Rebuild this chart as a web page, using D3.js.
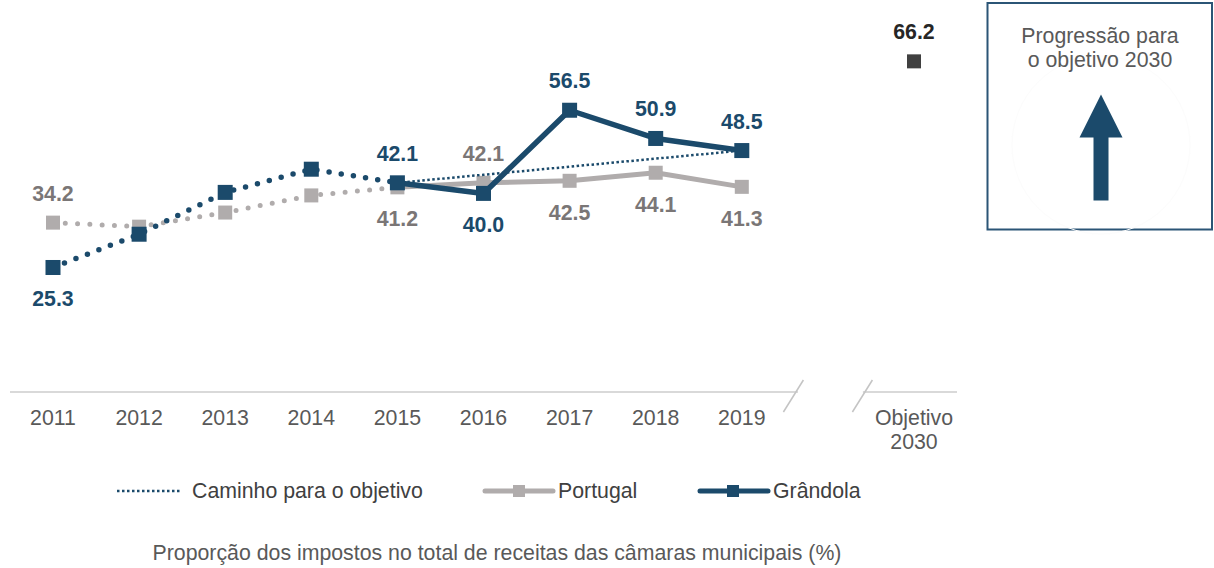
<!DOCTYPE html>
<html lang="pt">
<head>
<meta charset="utf-8">
<script src="https://cdn.jsdelivr.net/npm/d3@7"></script>
<style>
  html, body { margin: 0; padding: 0; background: #fff; }
  svg { display: block; font-family: "Liberation Sans", Arial, sans-serif; }
</style>
</head>
<body>
<svg id="chart" width="1214" height="568"></svg>
<script>
// Categories on the horizontal axis (blank slot marks the axis break)
const years = ["2011", "2012", "2013", "2014", "2015", "2016", "2017", "2018", "2019"];
const slots = [...years, "gap", "Objetivo 2030"];

// Share of taxes in total municipal revenue (%)
const portugal = [34.2, 33.4, 36.2, 39.6, 41.2, 42.1, 42.5, 44.1, 41.3];
const grandola = [25.3, 31.9, 40.2, 44.8, 42.1, 40.0, 56.5, 50.9, 48.5];

// Path toward the 2030 target, 2015–2019
const pathYears = ["2015", "2016", "2017", "2018", "2019"];
const pathValues = [42.1, 43.7, 45.3, 46.9, 48.5];

const goalValue = 66.2;
const labelledYears = ["2011", "2015", "2016", "2017", "2018", "2019"];

const tickLabels = ["2011", "2012", "2013", "2014", "2015", "2016", "2017", "2018", "2019", "", "Objetivo\n2030"];
const legendLabels = ["Caminho para o objetivo", "Portugal", "Grândola"];
const caption = "Proporção dos impostos no total de receitas das câmaras municipais (%)";
const boxTitle = ["Progressão para", "o objetivo 2030"];

const BLUE = "#1b4a6b";
const GREY = "#b0acac";
const GREY_TXT = "#7a7676";
const AXIS_TXT = "#595959";
const FS = 21.3;

const svg = d3.select("#chart");

const x = d3.scalePoint().domain(slots).range([53, 914]);
const y = d3.scaleLinear().domain([0, 70]).range([395, 42.2]);

const line = d3.line().x(d => x(d.year)).y(d => y(d.value));
const pts = vals => years.map((yr, i) => ({ year: yr, value: vals[i] }));

const P = pts(portugal);
const G = pts(grandola);

// Axis baseline with a break before the target column
const axisY = 392;
const gapX = x("gap");
const axis = svg.append("g");
axis.append("line").attr("x1", 10).attr("x2", gapX - 30).attr("y1", axisY).attr("y2", axisY)
  .attr("stroke", "#d9d9d9").attr("stroke-width", 2);
axis.append("line").attr("x1", gapX + 35).attr("x2", 957).attr("y1", axisY).attr("y2", axisY)
  .attr("stroke", "#d9d9d9").attr("stroke-width", 2);
[-34.5, 34.5].forEach(off => {
  axis.append("line")
    .attr("x1", gapX + off - 10).attr("y1", axisY + 20)
    .attr("x2", gapX + off + 10).attr("y2", axisY - 12)
    .attr("stroke", "#c4c4c4").attr("stroke-width", 1.5);
});

// Tick labels
const ticks = svg.append("g").attr("fill", AXIS_TXT).attr("font-size", FS).attr("text-anchor", "middle");
slots.forEach((s, i) => {
  const lines = tickLabels[i].split("\n");
  lines.forEach((t, j) => {
    if (!t) return;
    ticks.append("text").attr("x", x(s)).attr("y", 425 + j * 24).text(t);
  });
});

// Portugal: dotted 2011–2015, solid afterwards
svg.append("path").datum(P.slice(0, 5)).attr("d", line)
  .attr("fill", "none").attr("stroke", GREY).attr("stroke-width", 5)
  .attr("stroke-linecap", "round").attr("stroke-dasharray", "0 12.3");
svg.append("path").datum(P.slice(4)).attr("d", line)
  .attr("fill", "none").attr("stroke", GREY).attr("stroke-width", 5).attr("stroke-linejoin", "round");
svg.append("g").selectAll("rect").data(P).join("rect")
  .attr("x", d => x(d.year) - 7).attr("y", d => y(d.value) - 7)
  .attr("width", 14).attr("height", 14).attr("fill", GREY);

// Path toward the target
svg.append("path").datum(pathYears.map((yr, i) => ({ year: yr, value: pathValues[i] }))).attr("d", line)
  .attr("fill", "none").attr("stroke", BLUE).attr("stroke-width", 2.5).attr("stroke-dasharray", "2.5 2.5");

// Grândola: dotted 2011–2015, solid afterwards
svg.append("path").datum(G.slice(0, 5)).attr("d", line)
  .attr("fill", "none").attr("stroke", BLUE).attr("stroke-width", 5.5)
  .attr("stroke-linecap", "round").attr("stroke-dasharray", "0 12.3");
svg.append("path").datum(G.slice(4)).attr("d", line)
  .attr("fill", "none").attr("stroke", BLUE).attr("stroke-width", 5.5).attr("stroke-linejoin", "round");
svg.append("g").selectAll("rect").data(G).join("rect")
  .attr("x", d => x(d.year) - 7.5).attr("y", d => y(d.value) - 7.5)
  .attr("width", 15).attr("height", 15).attr("fill", BLUE);

// Value labels: the higher series is labelled above, the lower one below
const labels = svg.append("g").attr("font-size", 21.3).attr("font-weight", "bold").attr("text-anchor", "middle");
years.forEach((yr, i) => {
  if (!labelledYears.includes(yr)) return;
  const gUp = grandola[i] >= portugal[i];
  labels.append("text").attr("x", x(yr))
    .attr("y", y(grandola[i]) + (gUp ? -22 : 39))
    .attr("fill", BLUE).text(grandola[i].toFixed(1));
  labels.append("text").attr("x", x(yr))
    .attr("y", y(portugal[i]) + (gUp ? 39 : -22))
    .attr("fill", GREY_TXT).text(portugal[i].toFixed(1));
});

// 2030 target marker
const gx = x("Objetivo 2030");
svg.append("rect").attr("x", gx - 7).attr("y", y(goalValue) - 7).attr("width", 14).attr("height", 14).attr("fill", "#404040");
labels.append("text").attr("x", gx).attr("y", y(goalValue) - 22).attr("fill", "#262626").text(goalValue.toFixed(1));

// Legend
const lg = svg.append("g").attr("font-size", FS).attr("fill", "#404040");
const legY = 491;
lg.append("line").attr("x1", 117).attr("x2", 182).attr("y1", legY).attr("y2", legY)
  .attr("stroke", BLUE).attr("stroke-width", 2.5).attr("stroke-dasharray", "2.5 2.5");
lg.append("text").attr("x", 192).attr("y", legY + 7).text(legendLabels[0]);
lg.append("line").attr("x1", 485).attr("x2", 553).attr("y1", legY).attr("y2", legY)
  .attr("stroke", GREY).attr("stroke-width", 5).attr("stroke-linecap", "round");
lg.append("rect").attr("x", 513).attr("y", legY - 6).attr("width", 12).attr("height", 12).attr("fill", GREY);
lg.append("text").attr("x", 558).attr("y", legY + 7).text(legendLabels[1]);
lg.append("line").attr("x1", 700).attr("x2", 768).attr("y1", legY).attr("y2", legY)
  .attr("stroke", BLUE).attr("stroke-width", 5).attr("stroke-linecap", "round");
lg.append("rect").attr("x", 727).attr("y", legY - 6).attr("width", 12).attr("height", 12).attr("fill", BLUE);
lg.append("text").attr("x", 773).attr("y", legY + 7).text(legendLabels[2]);

// Caption
svg.append("text").attr("x", 497).attr("y", 560).attr("text-anchor", "middle")
  .attr("font-size", FS).attr("fill", AXIS_TXT).text(caption);

// Progress box
const box = svg.append("g");
box.append("rect").attr("x", 987.5).attr("y", 3).attr("width", 224.5).attr("height", 226.5)
  .attr("fill", "#fff").attr("stroke", "#2b5576").attr("stroke-width", 2);
box.append("circle").attr("cx", 1101).attr("cy", 145).attr("r", 89)
  .attr("fill", "none").attr("stroke", "#fcfcfc").attr("stroke-width", 1);
boxTitle.forEach((t, i) => {
  box.append("text").attr("x", 1100).attr("y", 43 + i * 24).attr("text-anchor", "middle")
    .attr("font-size", FS).attr("fill", AXIS_TXT).text(t);
});
box.append("path")
  .attr("d", "M1101,94.5 L1122.5,137.5 L1108.5,137.5 L1108.5,200.5 L1093.5,200.5 L1093.5,137.5 L1079.5,137.5 Z")
  .attr("fill", BLUE);
</script>
</body>
</html>
